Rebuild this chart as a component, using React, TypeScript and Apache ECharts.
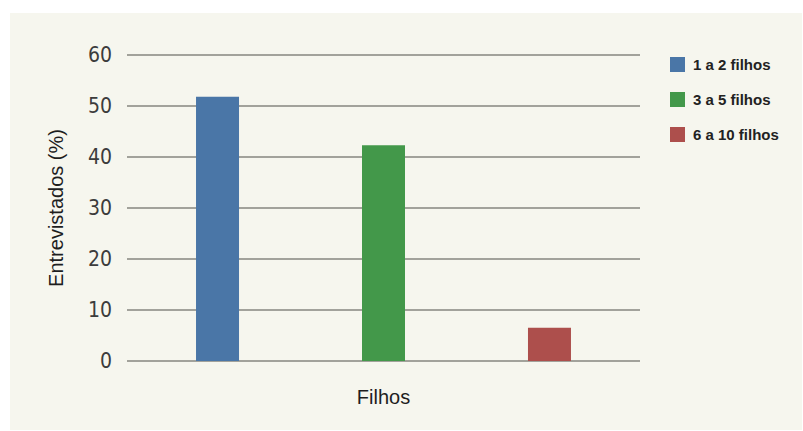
import React, { useEffect, useRef } from "react";
import * as echarts from "echarts";

// Share of respondents by number of children
const categories = ["Filhos"];
const seriesNames = ["1 a 2 filhos", "3 a 5 filhos", "6 a 10 filhos"];
const seriesValues = [51.8, 42.3, 6.5];
const seriesColors = ["#4a76a7", "#43984a", "#ad4f4c"];
const yTicks = [0, 10, 20, 30, 40, 50, 60];

const narrowFont = "'Liberation Sans Narrow', 'DejaVu Sans Condensed', 'Liberation Sans', Arial, sans-serif";
const bodyFont = "'Liberation Sans', Arial, sans-serif";

export default function App() {
  const ref = useRef<HTMLDivElement>(null);

  useEffect(() => {
    if (!ref.current) return;
    const chart = echarts.init(ref.current, null, { renderer: "svg" });
    chart.setOption({
      animation: false,
      backgroundColor: "#ffffff",
      graphic: [
        {
          type: "rect",
          z: -10,
          silent: true,
          shape: { x: 10, y: 13, width: 792, height: 417 },
          style: { fill: "#f6f6ee" },
        },
      ],
      grid: { left: 127, right: 163, top: 55, bottom: 70 },
      legend: {
        orient: "vertical",
        left: 665,
        top: 52,
        itemWidth: 15,
        itemHeight: 15,
        itemGap: 20,
        icon: "rect",
        data: seriesNames,
        textStyle: {
          fontFamily: bodyFont,
          fontSize: 15,
          fontWeight: "bold",
          color: "#222222",
          padding: [0, 0, 0, 3],
        },
      },
      xAxis: {
        type: "category",
        data: categories,
        axisLine: { show: false },
        axisTick: { show: false },
        axisLabel: {
          margin: 26,
          fontFamily: bodyFont,
          fontSize: 20,
          color: "#1e1e1e",
        },
      },
      yAxis: {
        type: "value",
        min: yTicks[0],
        max: yTicks[yTicks.length - 1],
        interval: 10,
        name: "Entrevistados (%)",
        nameLocation: "middle",
        nameGap: 61,
        nameTextStyle: {
          fontFamily: bodyFont,
          fontSize: 20,
          color: "#1e1e1e",
        },
        axisLine: { show: false },
        axisTick: { show: false },
        axisLabel: {
          margin: 15,
          fontFamily: narrowFont,
          fontSize: 21,
          color: "#3c3c3c",
          verticalAlign: "middle",
          padding: [8, 0, 0, 0],
        },
        splitLine: { lineStyle: { color: "#86867f", width: 1.5 } },
      },
      series: seriesNames.map((name, i) => ({
        name,
        type: "bar",
        data: [seriesValues[i]],
        barWidth: 43,
        barGap: "286%",
        itemStyle: { color: seriesColors[i] },
      })),
    });
    return () => chart.dispose();
  }, []);

  return (
    <div
      ref={ref}
      style={{ position: "fixed", left: 0, top: 0, width: 803, height: 431 }}
    />
  );
}
